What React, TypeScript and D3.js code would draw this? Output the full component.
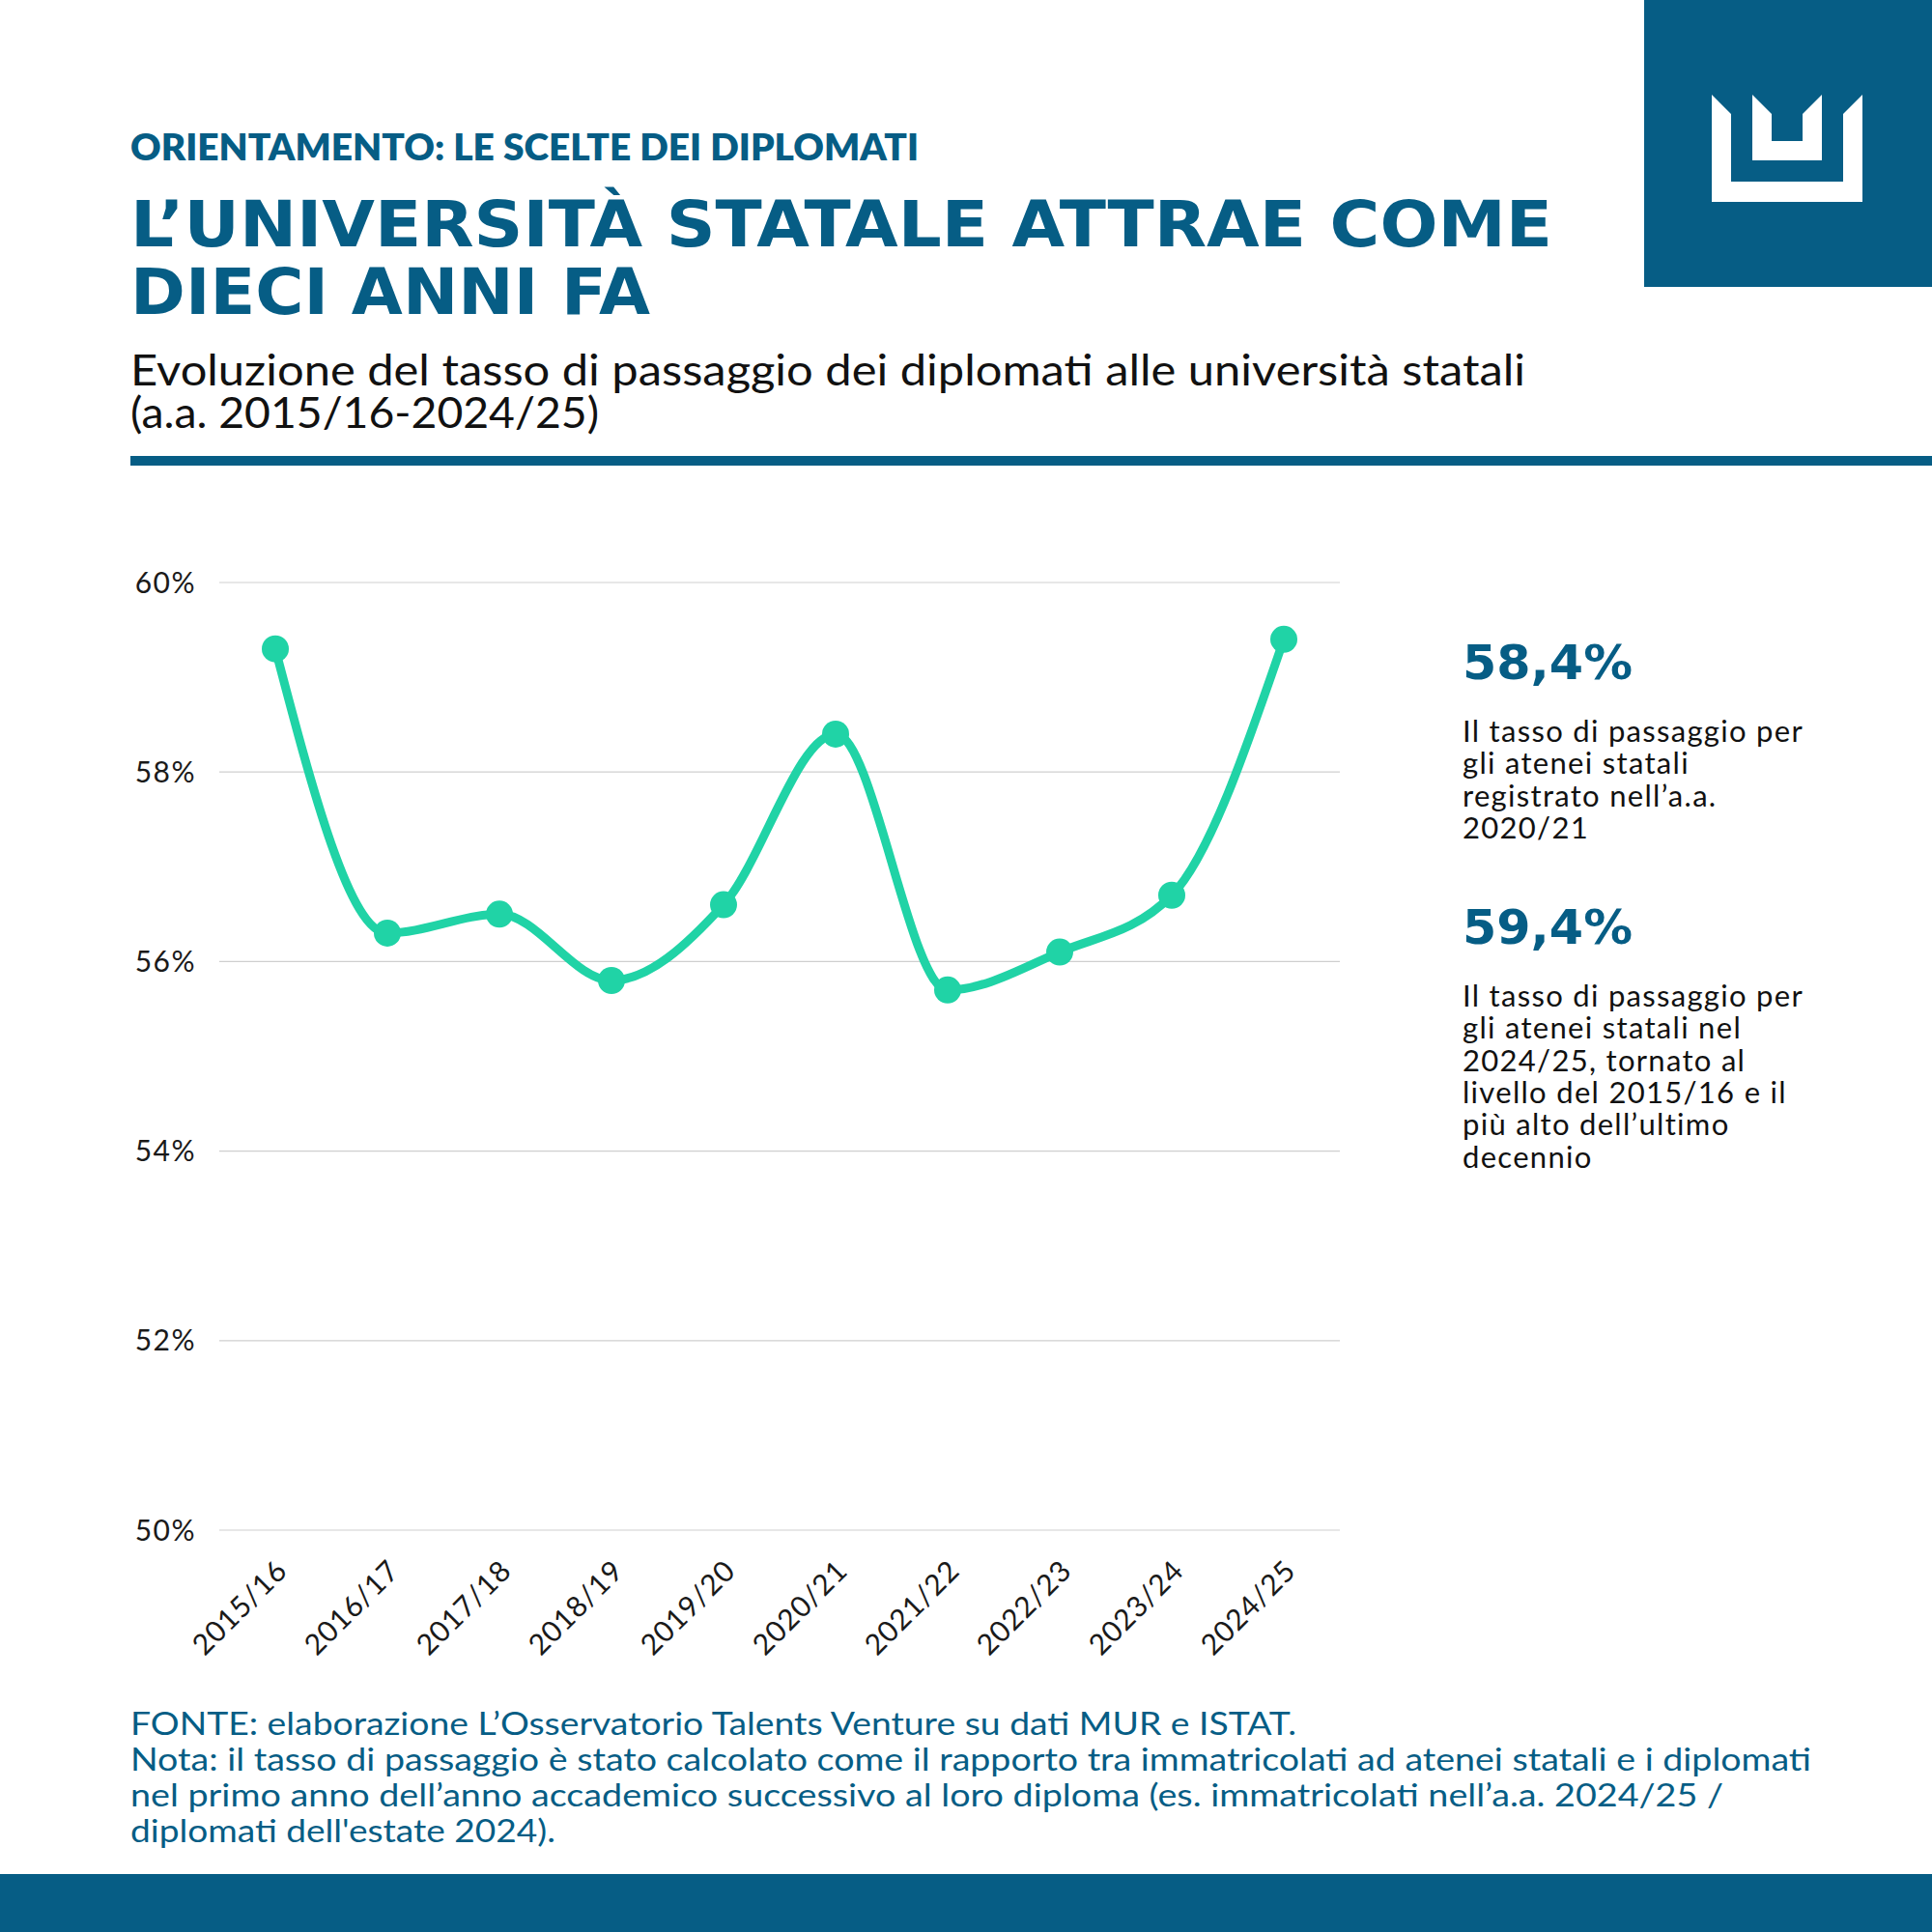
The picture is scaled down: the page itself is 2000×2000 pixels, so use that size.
import React from 'react';
import * as d3 from 'd3';

// Dati
const years = ['2015/16', '2016/17', '2017/18', '2018/19', '2019/20', '2020/21', '2021/22', '2022/23', '2023/24', '2024/25'];
const rates = [59.3, 56.3, 56.5, 55.8, 56.6, 58.4, 55.7, 56.1, 56.7, 59.4];
const yTicks = [50, 52, 54, 56, 58, 60];

const highlights = [
  { value: '58,4%', lines: ['Il tasso di passaggio per', 'gli atenei statali', 'registrato nell\u2019a.a.', '2020/21'] },
  { value: '59,4%', lines: ['Il tasso di passaggio per', 'gli atenei statali nel', '2024/25, tornato al', 'livello del 2015/16 e il', 'pi\u00f9 alto dell\u2019ultimo', 'decennio'] },
];

const notes = [
  'FONTE: elaborazione L\u2019Osservatorio Talents Venture su dati MUR e ISTAT.',
  'Nota: il tasso di passaggio \u00e8 stato calcolato come il rapporto tra immatricolati ad atenei statali e i diplomati',
  'nel primo anno dell\u2019anno accademico successivo al loro diploma (es. immatricolati nell\u2019a.a. 2024/25 /',
  'diplomati dell\'estate 2024).',
];

const BLUE = '#065d85';
const GREEN = '#20d3a6';
const FONT = 'Lato, "Open Sans", sans-serif';

const W = 2000;
const H = 2000;
const plot = { left: 227, right: 1387, top: 603, bottom: 1584 };

const App: React.FC = () => {
  const x = d3.scaleBand<string>().domain(years).range([plot.left, plot.right]).padding(0);
  const y = d3.scaleLinear().domain([50, 60]).range([plot.bottom, plot.top]);
  const cx = (d: string) => (x(d) || 0) + x.bandwidth() / 2;

  const line = d3.line<number>()
    .x((_, i) => cx(years[i]))
    .y(d => y(d))
    .curve(d3.curveMonotoneX);

  return (
    <svg width={W} height={H} style={{ display: 'block', position: 'absolute', left: 0, top: 0 }}>
      <rect width={W} height={H} fill="#fff" />

      {/* logo */}
      <rect x={1702} y={0} width={298} height={297} fill={BLUE} />
      <path d="M1772,98 L1792,118 L1792,188 L1908,188 L1908,118 L1928,98 L1928,209 L1772,209 Z" fill="#fff" />
      <path d="M1814,98 L1834,118 L1834,146 L1866,146 L1866,118 L1886,98 L1886,166 L1814,166 Z" fill="#fff" />

      {/* titoli */}
      <text x={135} y={166} fill={BLUE} fontFamily={FONT} fontWeight={800} fontSize={38}
        textLength={816} lengthAdjust="spacingAndGlyphs">ORIENTAMENTO: LE SCELTE DEI DIPLOMATI</text>
      <text x={135} y={255} fill={BLUE} fontFamily='"DejaVu Sans", sans-serif' fontWeight={700} fontSize={66}
        textLength={1472} lengthAdjust="spacingAndGlyphs">L’UNIVERSITÀ STATALE ATTRAE COME</text>
      <text x={135} y={325} fill={BLUE} fontFamily='"DejaVu Sans", sans-serif' fontWeight={700} fontSize={66}
        textLength={538} lengthAdjust="spacingAndGlyphs">DIECI ANNI FA</text>
      <text x={135} y={399} fill="#111" fontFamily={FONT} fontSize={44}
        textLength={1444} lengthAdjust="spacingAndGlyphs">Evoluzione del tasso di passaggio dei diplomati alle università statali</text>
      <text x={135} y={443} fill="#111" fontFamily={FONT} fontSize={44}
        textLength={485} lengthAdjust="spacingAndGlyphs">(a.a. 2015/16-2024/25)</text>
      <rect x={135} y={472} width={W - 135} height={10} fill={BLUE} />

      {/* griglia e asse y */}
      {yTicks.map(t => (
        <g key={t}>
          <line x1={plot.left} x2={plot.right} y1={y(t)} y2={y(t)} stroke="#cfcfcf" strokeWidth={1.2} />
          <text x={203} y={y(t)} dy="0.35em" textAnchor="end" fontFamily={FONT} fontSize={30}
            letterSpacing={1.5} fill="#1a1a1a">{t}%</text>
        </g>
      ))}

      {/* asse x */}
      {years.map(d => (
        <text key={d} transform={`translate(${cx(d) + 14},${plot.bottom + 44}) rotate(-45)`}
          textAnchor="end" fontFamily={FONT} fontSize={30} letterSpacing={0.8} fill="#1a1a1a">{d}</text>
      ))}

      {/* serie */}
      <path d={line(rates) || ''} fill="none" stroke={GREEN} strokeWidth={9} strokeLinecap="round" strokeLinejoin="round" />
      {rates.map((v, i) => (
        <circle key={years[i]} cx={cx(years[i])} cy={y(v)} r={14} fill={GREEN} />
      ))}

      {/* riquadri a destra */}
      {highlights.map((h, k) => {
        const top = k === 0 ? 703 : 977;
        return (
          <g key={h.value}>
            <text x={1514} y={top} fill={BLUE} fontFamily='"DejaVu Sans", sans-serif' fontWeight={700} fontSize={50}
              textLength={176} lengthAdjust="spacingAndGlyphs">{h.value}</text>
            {h.lines.map((l, j) => (
              <text key={j} x={1514} y={top + 65 + j * 33.3} fill="#111" fontFamily={FONT} fontSize={31}
                letterSpacing={1.3}>{l}</text>
            ))}
          </g>
        );
      })}

      {/* note */}
      {notes.map((n, i) => (
        <text key={i} x={135} y={1796 + i * 37} fill={BLUE} fontFamily={FONT} fontSize={32}
          textLength={[1207, 1740, 1649, 440][i]} lengthAdjust="spacingAndGlyphs">{n}</text>
      ))}

      <rect x={0} y={1940} width={W} height={60} fill={BLUE} />
    </svg>
  );
};

export default App;
